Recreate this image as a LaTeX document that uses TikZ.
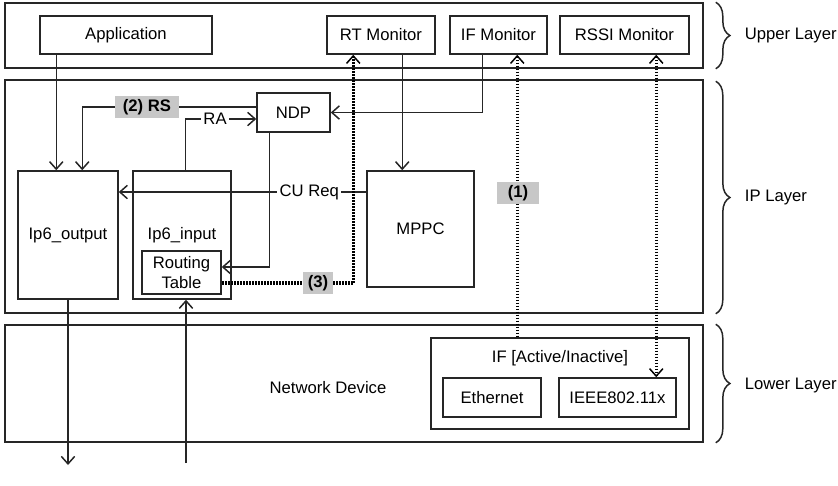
\documentclass[tikz,border=0pt]{standalone}
\usepackage{fontspec}
\setmainfont{Liberation Sans}
\usetikzlibrary{arrows.meta,calc,decorations.pathreplacing}
\begin{document}
\begin{tikzpicture}[x=0.6pt,y=-0.6pt,every node/.style={font=\fontsize{10}{12}\selectfont},
  vt/.tip={Straight Barb[length=4.5pt,width=8pt,line width=0.9pt]},
  blk/.style 2 args={draw=black!85,line width=0.9pt,inner sep=0pt,minimum width=0.6*#1pt,minimum height=0.6*#2pt},
  arr/.style={draw=black!85,line width=0.9pt,-vt},
  dots/.style={draw=black,line width=1.9pt,dash pattern=on 1.1pt off 0.7pt},
  tag/.style={fill=black!22,font=\fontsize{10}{12}\selectfont\bfseries,inner ysep=0pt,minimum height=13pt},
  lay/.style={decorate,decoration={brace,amplitude=8.5pt},draw=black!85,line width=0.9pt}]
\useasboundingbox (0,0) rectangle (838,485);
\node[blk={698}{65}] (upper) at (354,35.5) {};
\node[blk={698}{233}] (iplay) at (354,196.5) {};
\node[blk={698}{117}] (lower) at (354,383.5) {};
\draw[lay] ($(upper.north east)+(12,0)$) -- ($(upper.south east)+(12,0)$);
\draw[lay] ($(iplay.north east)+(12,2)$) -- ($(iplay.south east)+(12,0)$);
\draw[lay] ($(lower.north east)+(12,0)$) -- ($(lower.south east)+(12,0)$);
\node[anchor=west] (uplbl) at (739,35.5) {Upper Layer};
\node[anchor=west] (iplbl) at (739,197) {IP Layer};
\node[anchor=west] (lowlbl) at (739,385) {Lower Layer};
\node[blk={172}{38}] (app) at (126,35) {Application};
\node[blk={108}{38}] (rtmon) at (381,35) {RT Monitor};
\node[blk={97}{38}] (ifmon) at (498.5,35) {IF Monitor};
\node[blk={129}{38}] (rssimon) at (624.5,35) {RSSI Monitor};
\node[blk={73}{39}] (ndp) at (293.5,112.5) {NDP};
\node[blk={100}{128}] (ipout) at (68,235) {Ip6\_output};
\node[blk={98}{128}] (ipin) at (182,235) {Ip6\_input};
\node[blk={79}{43},fill=white,align=center] (rt) at (181.5,272.5) {Routing\\Table};
\node[blk={107}{116}] (mppc) at (420.5,229) {MPPC};
\node (netdev) at (328,388) {Network Device};
\node[blk={258}{91}] (ifbox) at (560,383.5) {};
\node (iflbl) at (560,358) {IF [Active/Inactive]};
\node[blk={98}{39}] (eth) at (492,397.5) {Ethernet};
\node[blk={117}{39}] (ieee) at (617.5,397.5) {IEEE802.11x};
\coordinate (outend) at (68,465);
\coordinate (inend) at (186,463);
\draw[arr] ($(app.south west)+(17,0)$) -- ($(ipout.north west)+(39,0)$);
\draw[arr] ($(ndp.west)+(0,-5.5)$) -| ($(ipout.north west)+(65,0)$);
\draw[arr] ($(ipin.north west)+(53,0)$) |- ($(ndp.west)+(0,6.5)$) node[pos=0.71,fill=white,inner sep=1.5pt] (ra) {RA};
\draw[arr] ($(ndp.south west)+(13,0)$) |- ($(rt.east)+(0,-5.5)$);
\draw[arr] ($(ifmon.south west)+(33,0)$) |- (ndp.east);
\draw[arr] ($(rtmon.south west)+(76,0)$) -- ($(mppc.north west)+(36,0)$);
\draw[arr] ($(mppc.west)+(0,-37)$) -- ($(ipout.east)+(0,-43)$) node[pos=0.23,fill=white,inner sep=1.5pt] (cureq) {CU Req};
\draw[arr] (ipout.south) -- (outend);
\draw[arr] (inend) -- (inend |- ipin.south);
\draw[dots,vt-] ($(ifmon.south west)+(68,0)$) -- ($(ifbox.north west)+(87,0)$);
\draw[dots,vt-vt] ($(rssimon.south west)+(97,0)$) -- ($(ieee.north west)+(98,0)$);
\draw[dots,-vt] ($(rt.east)+(0,10.5)$) -| ($(rtmon.south west)+(27,0)$);
\node[tag,inner xsep=6.5pt] (one) at (518,193) {(1)};
\node[tag,inner xsep=4.5pt] (two) at (147,107) {(2) RS};
\node[tag,inner xsep=3pt] (three) at (318,283) {(3)};
\end{tikzpicture}
\end{document}
